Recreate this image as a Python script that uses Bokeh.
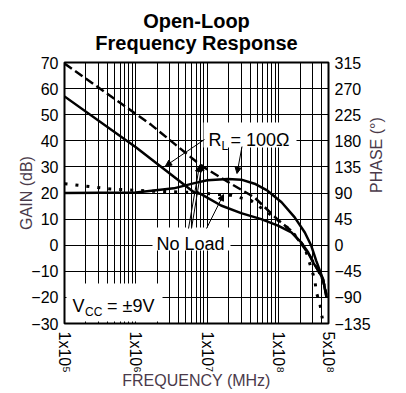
import math
from bokeh.plotting import figure
from bokeh.models import (Range1d, LinearAxis, FixedTicker, SingleIntervalTicker, Label,
                          Arrow, NormalHead, BoxAnnotation, Title)
from bokeh.embed import file_html
from bokeh.resources import INLINE

# ---------------- data ----------------
freq_gain_rl = [1e5, 1e6, 6.5e6, 8.2e6, 1.56e7, 2.98e7, 5.7e7, 9.8e7, 1.51e8, 2.09e8, 2.6e8, 3.05e8, 3.6e8, 4.2e8, 4.7e8]
gain_rl = [57.0, 37.5, 20.3, 19.6, 15.2, 12.3, 10.0, 7.5, 4.9, 1.0, -2.8, -6.7, -9.7, -13.1, -20.1]

freq_gain_nl = [1e5, 1.61e6, 8.2e6, 2.16e7, 4.6e7, 9.8e7, 1.51e8, 2.17e8, 2.75e8, 3.4e8, 4.2e8, 4.7e8]
gain_nl = [69.6, 46.3, 30.5, 23.5, 18.3, 9.7, 5.5, -0.2, -4.1, -8.6, -13.5, -19.0]

freq_phase_rl = [1e5, 1e6, 3.4e6, 6.6e6, 1.0e7, 1.94e7, 3.0e7, 4.6e7, 7.0e7, 1.1e8, 1.68e8, 2.33e8, 2.87e8, 3.37e8, 4.2e8, 4.7e8]
phase_rl = [90, 91, 98, 107, 112, 114, 113, 106, 94, 74, 48, 22, -1, -27, -59, -90]

freq_phase_nl = [1e5, 4.4e5, 1.8e6, 6.5e6, 1.24e7, 2.16e7, 4.1e7, 8.7e7, 1.51e8, 2.33e8, 3.2e8, 3.4e8, 3.8e8, 4.2e8]
phase_nl = [106, 97, 93, 91, 88, 86, 77, 48, 25, -4, -59, -82, -102, -134]

x_major_ticks = [1e5, 1e6, 1e7, 1e8, 5e8]
x_tick_labels = ["1x10\u2075", "1x10\u2076", "1x10\u2077", "1x10\u2078", "5x10\u2078"]
x_minor_ticks = [m * 10 ** k for k in range(5, 8) for m in range(2, 10)] + [2e8, 3e8, 4e8]

title_lines = ["Open-Loop", "Frequency Response"]

FONT = "Liberation Sans"
LABEL_COLOR = "#4a3a4a"

# ---------------- figure ----------------
p = figure(frame_width=264, frame_height=261, x_axis_type="log", x_range=(1e5, 5e8), y_range=(-30, 70),
           output_backend="svg", toolbar_location=None,
           title=title_lines[0],
           min_border_left=64, min_border_right=78, min_border_top=62, min_border_bottom=70)
p.background_fill_color = "white"
p.border_fill_color = "white"
p.outline_line_color = "black"
p.outline_line_width = 2


def style_title(t):
    t.align = "center"
    t.text_font = FONT
    t.text_font_size = "20px"
    t.text_font_style = "bold"
    t.text_color = "black"


style_title(p.title)
t1 = Title(text=title_lines[1])
style_title(t1)
p.title.standoff = -21
t1.standoff = 17
p.add_layout(t1, "above")

p.extra_y_ranges = {"phase": Range1d(-135, 315)}
rax = LinearAxis(y_range_name="phase")
p.add_layout(rax, "right")

xt = FixedTicker(ticks=x_major_ticks, minor_ticks=x_minor_ticks)
p.xaxis.ticker = xt
p.xgrid.ticker = xt
yt = SingleIntervalTicker(interval=10)
p.yaxis.ticker = yt
p.ygrid.ticker = yt
rax.ticker = SingleIntervalTicker(interval=45)

p.xaxis.major_label_overrides = dict(zip(x_major_ticks, x_tick_labels))
p.xaxis.major_label_orientation = "vertical"

p.xaxis.axis_label = "FREQUENCY (MHz)"
p.yaxis.axis_label = "GAIN (dB)"
rax.axis_label = "PHASE (\u00b0)"
rax.axis_label_orientation = math.pi / 2

for ax in [p.xaxis[0], p.yaxis[0], rax]:
    ax.axis_line_color = None
    ax.major_tick_line_color = None
    ax.minor_tick_line_color = None
    ax.major_tick_in = 0
    ax.major_tick_out = 0
    ax.major_label_text_font = FONT
    ax.major_label_text_font_size = "16px"
    ax.major_label_text_color = "black"
    ax.axis_label_text_font = FONT
    ax.axis_label_text_font_size = "16px"
    ax.axis_label_text_font_style = "normal"
    ax.axis_label_text_color = LABEL_COLOR
p.yaxis[0].major_label_standoff = 2
p.yaxis[0].axis_label_standoff = -7
rax.major_label_standoff = 2
rax.axis_label_standoff = 3
p.xaxis[0].major_label_standoff = 4
p.xaxis[0].axis_label_standoff = -4

p.xgrid.grid_line_color = "black"
p.xgrid.grid_line_width = 1
p.xgrid.minor_grid_line_color = "black"
p.xgrid.minor_grid_line_width = 1
p.ygrid.grid_line_color = "black"
p.ygrid.grid_line_width = 1

# ---------------- curves ----------------
p.line(freq_gain_rl, gain_rl, line_color="black", line_width=2.5)
p.line(freq_gain_nl, gain_nl, line_color="black", line_width=2.5, line_dash="9 4")
p.line(freq_phase_rl, phase_rl, y_range_name="phase", line_color="black", line_width=2.5)
p.line(freq_phase_nl, phase_nl, y_range_name="phase", line_color="black", line_width=3,
       line_dash="3 8")

# ---------------- annotation placement helpers (frame pixels -> data) ----------------
FX0, FX1, FY0, FY1 = 64.0, 328.0, 62.0, 323.0
DEC = math.log10(5e8 / 1e5)


def fx(px):
    return 1e5 * 10 ** ((px - FX0) / (FX1 - FX0) * DEC)


def gy(py):
    return 70 - (py - FY0) / (FY1 - FY0) * 100


def txt(px, py, s, size="18px"):
    p.add_layout(Label(x=fx(px), y=gy(py), text=s, text_font=FONT, text_font_size=size,
                       text_align="left", text_baseline="alphabetic", text_color="black"))


def box(l, r, t, b):
    p.add_layout(BoxAnnotation(left=fx(l), right=fx(r), top=gy(t), bottom=gy(b),
                               fill_color="white", fill_alpha=1.0, line_color=None,
                               level="annotation"))


def arrow(x0, y0, x1, y1):
    p.add_layout(Arrow(end=NormalHead(size=6, fill_color="black", line_color="black", line_width=1),
                       x_start=fx(x0), y_start=gy(y0), x_end=fx(x1), y_end=gy(y1),
                       line_color="black", line_width=1))


# R_L = 100 ohm
box(203, 296, 122, 147)
txt(208, 139.5, "R")
txt(221, 145.5, "L", size="12px")
txt(230, 139.5, "= 100\u03a9")
arrow(204, 139, 165, 165.5)
arrow(241.5, 146, 236.5, 173)

# No Load
box(152, 230, 227, 250)
txt(156, 243, "No Load")
arrow(188, 228, 199, 165)
arrow(191, 228, 201.5, 164)
arrow(206, 228, 223, 194)

# Vcc
box(66, 162, 283, 321)
txt(72, 305, "V")
txt(84.5, 311, "CC", size="12px")
txt(106.5, 305, "= \u00b19V")

open("out.html", "w").write(file_html(p, INLINE))
